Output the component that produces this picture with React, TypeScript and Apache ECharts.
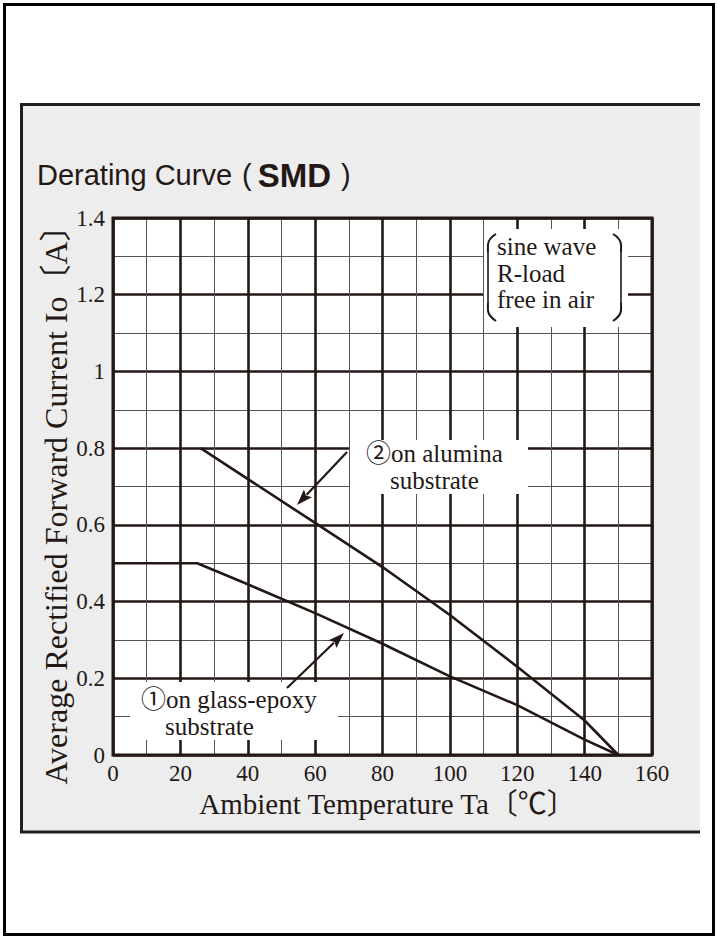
import React, { useEffect, useRef } from "react";
import * as echarts from "echarts";

// ---- data ----
const glassEpoxyTemp = [0, 25, 40, 60, 80, 100, 120, 140, 150];
const glassEpoxyCurrent = [0.5, 0.5, 0.445, 0.37, 0.29, 0.205, 0.13, 0.04, 0];
const aluminaTemp = [26, 60, 80, 100, 120, 140, 150];
const aluminaCurrent = [0.8, 0.605, 0.49, 0.365, 0.23, 0.09, 0];
const conditionLines = ["sine wave", "R-load", "free in air"];
const xTitle = "Ambient Temperature Ta〔℃〕";
const yTitle = "Average Rectified Forward Current Io〔A〕";
const glassLabel = ["①on glass-epoxy", "substrate"];
const aluminaLabel = ["②on alumina", "substrate"];

const INK = "#231815";
const SERIF = "'Liberation Serif', 'Noto Sans CJK JP', serif";
const SANS = "'Liberation Sans', Arial, sans-serif";

function pairs(xs: number[], ys: number[]) {
  return xs.map((x, i) => [x, ys[i]]);
}

function arrow(x1: number, y1: number, x2: number, y2: number) {
  const dx = x2 - x1;
  const dy = y2 - y1;
  const len = Math.sqrt(dx * dx + dy * dy);
  const ux = dx / len;
  const uy = dy / len;
  const hl = 16;
  const hw = 5.5;
  const bx = x2 - ux * hl;
  const by = y2 - uy * hl;
  return [
    {
      type: "line",
      z: 30,
      shape: { x1, y1, x2: bx + ux * 2, y2: by + uy * 2 },
      style: { stroke: INK, lineWidth: 2.2 },
    },
    {
      type: "polygon",
      z: 30,
      shape: {
        points: [
          [x2, y2],
          [bx - uy * hw, by + ux * hw],
          [bx + ux * 3, by + uy * 3],
          [bx + uy * hw, by - ux * hw],
        ],
      },
      style: { fill: INK },
    },
  ];
}

export default function App() {
  const ref = useRef<HTMLDivElement>(null);
  useEffect(() => {
    if (!ref.current) return;
    const chart = echarts.init(ref.current, undefined, { renderer: "svg" });
    const gx = 113,
      gy = 218,
      gw = 539,
      gh = 537;
    chart.setOption({
      animation: false,
      backgroundColor: "#ffffff",
      grid: {
        left: gx,
        top: gy,
        width: gw,
        height: gh,
        show: false,
      },
      xAxis: {
        type: "value",
        min: 0,
        max: 160,
        interval: 20,
        axisLine: { show: false },
        axisTick: { show: false },
        axisLabel: {
          color: INK,
          fontFamily: SERIF,
          fontSize: 23,
          margin: 7,
        },
        splitLine: { show: true, lineStyle: { color: INK, width: 2.6 } },
        minorTick: { show: false, splitNumber: 2 },
        minorSplitLine: { show: true, lineStyle: { color: "#555555", width: 1 } },
        name: xTitle,
        nameLocation: "middle",
        nameGap: 33,
        nameTextStyle: { color: INK, fontFamily: SERIF, fontSize: 29, padding: [0, 0, 0, 10] },
      },
      yAxis: {
        type: "value",
        min: 0,
        max: 1.4,
        interval: 0.2,
        axisLine: { show: false },
        axisTick: { show: false },
        axisLabel: {
          color: INK,
          fontFamily: SERIF,
          fontSize: 23,
          margin: 8,
        },
        splitLine: { show: true, lineStyle: { color: INK, width: 2.6 } },
        minorTick: { show: false, splitNumber: 2 },
        minorSplitLine: { show: true, lineStyle: { color: "#555555", width: 1 } },
      },
      series: [
        {
          name: "on glass-epoxy substrate",
          type: "line",
          data: pairs(glassEpoxyTemp, glassEpoxyCurrent),
          showSymbol: false,
          symbol: "none",
          lineStyle: { color: INK, width: 2.6 },
          z: 20,
        },
        {
          name: "on alumina substrate",
          type: "line",
          data: pairs(aluminaTemp, aluminaCurrent),
          showSymbol: false,
          symbol: "none",
          lineStyle: { color: INK, width: 2.6 },
          z: 20,
        },
      ],
      graphic: [
        // outer frame
        {
          type: "rect",
          z: -20,
          shape: { x: 4.5, y: 4.5, width: 709, height: 930 },
          style: { fill: "#ffffff", stroke: "#000000", lineWidth: 3 },
        },
        // gray panel
        {
          type: "rect",
          z: -10,
          shape: { x: 21, y: 104, width: 679, height: 728 },
          style: { fill: "#ededed" },
        },
        {
          type: "polyline",
          z: -9,
          shape: { points: [[700, 104.5], [21.5, 104.5], [21.5, 832], [700, 832]] },
          style: { stroke: "#231f20", lineWidth: 3, fill: "none" },
        },
        // plot background
        {
          type: "rect",
          z: -5,
          shape: { x: gx, y: gy, width: gw, height: gh },
          style: { fill: "#ffffff" },
        },
        // plot border
        {
          type: "rect",
          z: 25,
          shape: { x: gx, y: gy, width: gw, height: gh },
          style: { fill: "none", stroke: INK, lineWidth: 3 },
        },
        // title
        {
          type: "text",
          z: 40,
          x: 37,
          y: 175,
          style: {
            text: "{n|Derating Curve }{p|(}{b|SMD}{q|)}",
            fill: INK,
            verticalAlign: "middle",
            rich: {
              n: { font: `29px ${SANS}`, fill: INK },
              p: { font: `29px ${SANS}`, fill: INK, padding: [0, 6, 0, 2] },
              b: { font: `bold 33px ${SANS}`, fill: INK },
              q: { font: `29px ${SANS}`, fill: INK, padding: [0, 0, 0, 10] },
            },
          },
        },
        // y title
        {
          type: "text",
          z: 40,
          x: 56,
          y: 497,
          rotation: Math.PI / 2,
          style: {
            text: yTitle,
            font: `32px ${SERIF}`,
            fill: INK,
            align: "center",
            verticalAlign: "middle",
          },
        },
        // white boxes
        {
          type: "rect",
          z: 10,
          shape: { x: 484, y: 229, width: 144, height: 98 },
          style: { fill: "#ffffff" },
        },
        {
          type: "rect",
          z: 10,
          shape: { x: 350, y: 440, width: 178, height: 54 },
          style: { fill: "#ffffff" },
        },
        {
          type: "rect",
          z: 10,
          shape: { x: 130, y: 682, width: 208, height: 58 },
          style: { fill: "#ffffff" },
        },
        // brackets
        {
          type: "bezierCurve",
          z: 30,
          shape: { x1: 496, y1: 234, cpx1: 486, cpy1: 240, cpx2: 488, cpy2: 246, x2: 488, y2: 252 },
          style: { stroke: INK, lineWidth: 2, fill: "none" },
        },
        {
          type: "line",
          z: 30,
          shape: { x1: 488, y1: 252, x2: 488, y2: 303 },
          style: { stroke: INK, lineWidth: 1.6 },
        },
        {
          type: "bezierCurve",
          z: 30,
          shape: { x1: 488, y1: 303, cpx1: 488, cpy1: 310, cpx2: 486, cpy2: 314, x2: 496, y2: 321 },
          style: { stroke: INK, lineWidth: 2, fill: "none" },
        },
        {
          type: "bezierCurve",
          z: 30,
          shape: { x1: 613, y1: 234, cpx1: 623, cpy1: 240, cpx2: 621, cpy2: 246, x2: 621, y2: 252 },
          style: { stroke: INK, lineWidth: 2, fill: "none" },
        },
        {
          type: "line",
          z: 30,
          shape: { x1: 621, y1: 252, x2: 621, y2: 303 },
          style: { stroke: INK, lineWidth: 1.6 },
        },
        {
          type: "bezierCurve",
          z: 30,
          shape: { x1: 621, y1: 303, cpx1: 621, cpy1: 310, cpx2: 623, cpy2: 314, x2: 613, y2: 321 },
          style: { stroke: INK, lineWidth: 2, fill: "none" },
        },
        // condition text
        ...conditionLines.map((t, i) => ({
          type: "text",
          z: 40,
          x: 497,
          y: 259 + i * 26.5,
          style: {
            text: t,
            font: `25px ${SERIF}`,
            fill: INK,
            verticalAlign: "bottom",
          },
        })),
        // labels
        {
          type: "text",
          z: 40,
          x: 366,
          y: 466,
          style: { text: aluminaLabel[0], font: `25px ${SERIF}`, fill: INK, verticalAlign: "bottom" },
        },
        {
          type: "text",
          z: 40,
          x: 390,
          y: 493,
          style: { text: aluminaLabel[1], font: `25px ${SERIF}`, fill: INK, verticalAlign: "bottom" },
        },
        {
          type: "text",
          z: 40,
          x: 141,
          y: 712,
          style: { text: glassLabel[0], font: `25px ${SERIF}`, fill: INK, verticalAlign: "bottom" },
        },
        {
          type: "text",
          z: 40,
          x: 165,
          y: 739,
          style: { text: glassLabel[1], font: `25px ${SERIF}`, fill: INK, verticalAlign: "bottom" },
        },
        ...arrow(347, 452, 297, 505),
        ...arrow(287, 688, 344, 633),
      ],
    });
    return () => chart.dispose();
  }, []);
  return (
    <div
      ref={ref}
      style={{ position: "absolute", left: 0, top: 0, width: 718, height: 939 }}
    />
  );
}
